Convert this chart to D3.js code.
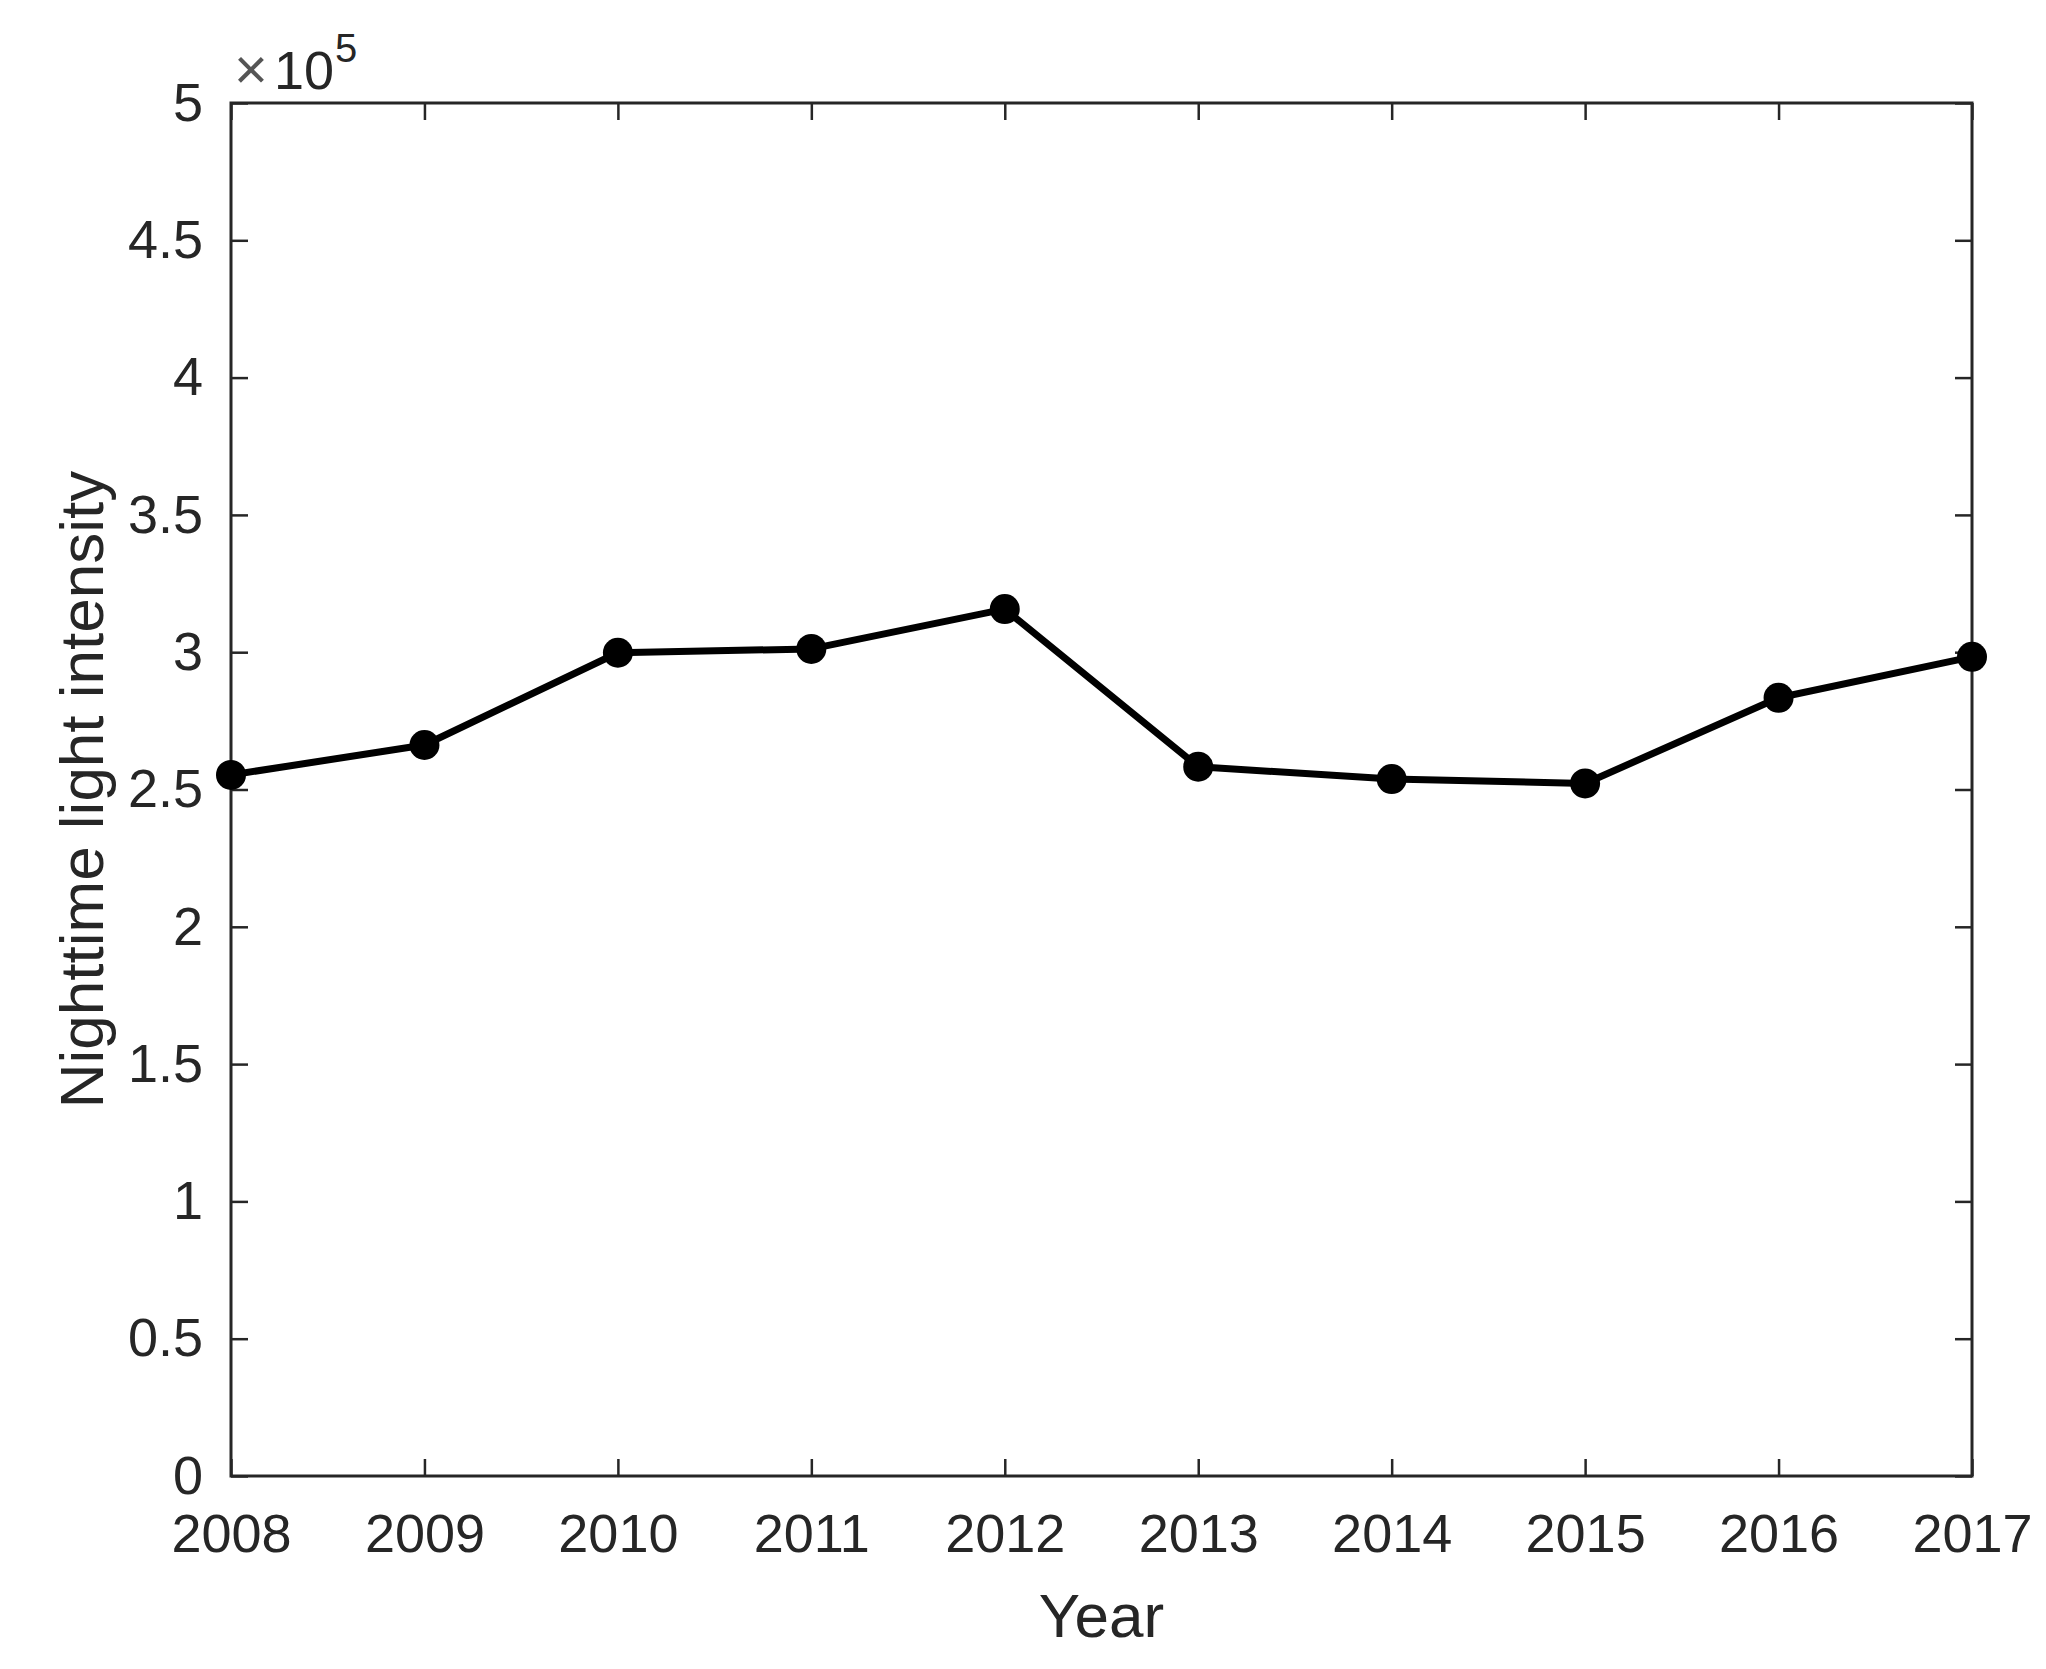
<!DOCTYPE html>
<html>
<head>
<script src="https://d3js.org/d3.v7.min.js"></script>
<style>
    html, body {
        margin: 0;
        padding: 0;
        background: #fff;
    }
    svg text {
        font-family: "Liberation Sans", Arial, Helvetica, sans-serif;
        fill: #262626;
    }
</style>
</head>
<body>
<div id="chart"></div>
<script>
    // data (values in units of 1e5)
    var years = [2008, 2009, 2010, 2011, 2012, 2013, 2014, 2015, 2016, 2017];
    var intensity = [2.553, 2.662, 2.998, 3.012, 3.157, 2.583, 2.538, 2.522, 2.834, 2.983];
    var yTicks = [0, 0.5, 1, 1.5, 2, 2.5, 3, 3.5, 4, 4.5, 5];

    var width = 2046, height = 1669;
    var margin = {top: 103, right: 74, bottom: 193, left: 231};
    var w = width - margin.left - margin.right;
    var h = height - margin.top - margin.bottom;

    var svg = d3.select('#chart').append('svg')
        .attr('width', width)
        .attr('height', height);

    var g = svg.append('g')
        .attr('transform', 'translate(' + margin.left + ',' + margin.top + ')');

    var x = d3.scaleLinear().domain([2008, 2017]).range([0, w]);
    var y = d3.scaleLinear().domain([0, 5]).range([h, 0]);

    var tickLen = 17;

    function styleAxis(sel, showText) {
        sel.select('.domain').remove();
        sel.selectAll('.tick line')
            .attr('stroke', '#262626')
            .attr('stroke-width', 2.5);
        sel.selectAll('.tick text')
            .style('font-size', '54px')
            .style('fill', '#262626');
        if (!showText) sel.selectAll('.tick text').remove();
    }

    // bottom + top
    g.append('g')
        .attr('transform', 'translate(0,' + h + ')')
        .call(d3.axisBottom(x).tickValues(years).tickFormat(d3.format('d'))
            .tickSizeInner(-tickLen).tickSizeOuter(0).tickPadding(38))
        .call(styleAxis, true);
    g.append('g')
        .call(d3.axisTop(x).tickValues(years)
            .tickSizeInner(-tickLen).tickSizeOuter(0))
        .call(styleAxis, false);

    // left + right
    g.append('g')
        .call(d3.axisLeft(y).tickValues(yTicks).tickFormat(d3.format('~g'))
            .tickSizeInner(-tickLen).tickSizeOuter(0).tickPadding(28))
        .call(styleAxis, true);
    g.append('g')
        .attr('transform', 'translate(' + w + ',0)')
        .call(d3.axisRight(y).tickValues(yTicks)
            .tickSizeInner(-tickLen).tickSizeOuter(0))
        .call(styleAxis, false);

    // box
    g.append('rect')
        .attr('x', 0).attr('y', 0)
        .attr('width', w).attr('height', h)
        .attr('fill', 'none')
        .attr('stroke', '#262626')
        .attr('stroke-width', 3);

    // series
    var pts = years.map(function(d, i) { return [d, intensity[i]]; });
    var line = d3.line()
        .x(function(d) { return x(d[0]); })
        .y(function(d) { return y(d[1]); });

    g.append('path')
        .datum(pts)
        .attr('d', line)
        .attr('fill', 'none')
        .attr('stroke', '#000')
        .attr('stroke-width', 7)
        .attr('stroke-linejoin', 'round');

    g.selectAll('circle.pt')
        .data(pts)
        .enter()
        .append('circle')
        .attr('class', 'pt')
        .attr('cx', function(d) { return x(d[0]); })
        .attr('cy', function(d) { return y(d[1]); })
        .attr('r', 15)
        .attr('fill', '#000');

    // exponent label
    var ex = svg.append('text')
        .attr('x', margin.left + 3)
        .attr('y', 89)
        .style('font-size', '54px');
    ex.append('tspan').text('\u00d7').style('font-size', '58px').style('fill', '#555');
    ex.append('tspan').text('10').attr('dx', 6);
    ex.append('tspan').text('5').attr('dy', -27).attr('dx', 1).style('font-size', '40px');

    // axis titles
    svg.append('text')
        .attr('x', margin.left + w / 2)
        .attr('y', 1637)
        .attr('text-anchor', 'middle')
        .style('font-size', '62px')
        .text('Year');

    svg.append('text')
        .attr('transform', 'translate(103,' + (margin.top + h / 2) + ') rotate(-90)')
        .attr('text-anchor', 'middle')
        .style('font-size', '62px')
        .text('Nighttime light intensity');
</script>
</body>
</html>
